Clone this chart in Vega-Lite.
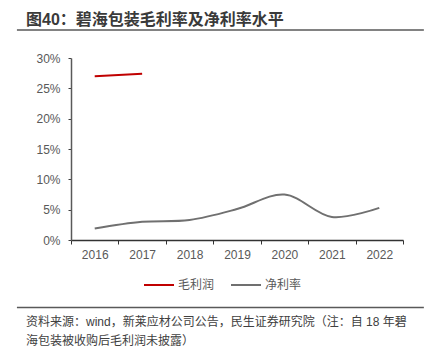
{
  "$schema": "https://vega.github.io/schema/vega-lite/v6.json",
  "width": 332,
  "height": 182,
  "autosize": {"type": "none"},
  "padding": {"left": 71, "top": 58, "right": 34, "bottom": 113},
  "background": "white",
  "config": {"view": {"stroke": null}, "font": "Liberation Sans, Noto Sans CJK SC"},
  "resolve": {"axis": {"x": "independent", "y": "independent"}},
  "layer": [
    {
      "data": {"values": [
        {"year": 2016, "series": "毛利润", "value": 0.270},
        {"year": 2017, "series": "毛利润", "value": 0.274},
        {"year": 2016, "series": "净利率", "value": 0.019},
        {"year": 2017, "series": "净利率", "value": 0.030},
        {"year": 2018, "series": "净利率", "value": 0.033},
        {"year": 2019, "series": "净利率", "value": 0.051},
        {"year": 2020, "series": "净利率", "value": 0.075},
        {"year": 2021, "series": "净利率", "value": 0.038},
        {"year": 2022, "series": "净利率", "value": 0.053}
      ]},
      "mark": {"type": "line", "interpolate": "catmull-rom", "strokeWidth": 2},
      "encoding": {
        "x": {
          "field": "year", "type": "quantitative",
          "scale": {"domain": [2015.5, 2022.5], "nice": false, "zero": false},
          "axis": {
            "title": null, "orient": "bottom",
            "values": [2015.5, 2016, 2016.5, 2017, 2017.5, 2018, 2018.5, 2019, 2019.5, 2020, 2020.5, 2021, 2021.5, 2022, 2022.5],
            "labelExpr": "datum.value % 1 == 0 ? format(datum.value, 'd') : ''",
            "tickColor": {"condition": {"test": "datum.value % 1 != 0", "value": "#333333"}, "value": "transparent"},
            "tickSize": 4, "tickWidth": 1,
            "domainColor": "#333333", "domainWidth": 1.5,
            "grid": false, "labelFontSize": 12, "labelColor": "#595959",
            "labelPadding": 5, "labelFlush": false, "labelOverlap": false
          }
        },
        "y": {
          "field": "value", "type": "quantitative",
          "scale": {"domain": [0, 0.3], "nice": false},
          "axis": {
            "title": null, "orient": "left", "values": [0, 0.05, 0.1, 0.15, 0.2, 0.25, 0.3], "format": ".0%",
            "tickSize": 3, "tickColor": "#404040", "domainColor": "#595959", "domainWidth": 1.5,
            "grid": false, "labelFontSize": 12, "labelColor": "#595959", "labelPadding": 8,
            "labelOverlap": false, "labelFlush": false
          }
        },
        "color": {
          "field": "series", "type": "nominal",
          "scale": {"domain": ["毛利润", "净利率"], "range": ["#c00000", "#707070"]},
          "legend": {
            "title": null, "orient": "none", "legendX": 72, "legendY": 211,
            "direction": "horizontal", "symbolType": "stroke", "symbolSize": 900,
            "symbolStrokeWidth": 2, "labelFontSize": 12, "labelColor": "#595959",
            "columnPadding": 12, "labelOffset": 3
          }
        }
      }
    },
    {
      "data": {"values": [{}]},
      "mark": {"type": "rule", "color": "#595959", "strokeWidth": 1.5},
      "encoding": {
        "x": {"datum": 2014.36, "type": "quantitative", "axis": null},
        "x2": {"datum": 2022.94},
        "y": {"datum": 0.3462, "type": "quantitative", "axis": null}
      }
    },
    {
      "data": {"values": [{}]},
      "mark": {"type": "rule", "color": "#595959", "strokeWidth": 1.5},
      "encoding": {
        "x": {"datum": 2014.36, "type": "quantitative", "axis": null},
        "x2": {"datum": 2022.94},
        "y": {"datum": -0.1113, "type": "quantitative", "axis": null}
      }
    },
    {
      "data": {"values": [{}]},
      "mark": {"type": "text", "align": "left", "baseline": "middle", "fontSize": 16, "fontWeight": "bold", "color": "#3a3a3a", "text": "图40：碧海包装毛利率及净利率水平"},
      "encoding": {
        "x": {"datum": 2014.551, "type": "quantitative", "axis": null},
        "y": {"datum": 0.3626, "type": "quantitative", "axis": null}
      }
    },
    {
      "data": {"values": [{}]},
      "mark": {"type": "text", "align": "left", "baseline": "middle", "fontSize": 12, "color": "#404040", "text": "资料来源：wind，新莱应材公司公告，民生证券研究院（注：自 18 年碧"},
      "encoding": {
        "x": {"datum": 2014.551, "type": "quantitative", "axis": null},
        "y": {"datum": -0.1352, "type": "quantitative", "axis": null}
      }
    },
    {
      "data": {"values": [{}]},
      "mark": {"type": "text", "align": "left", "baseline": "middle", "fontSize": 12, "color": "#404040", "text": "海包装被收购后毛利润未披露）"},
      "encoding": {
        "x": {"datum": 2014.551, "type": "quantitative", "axis": null},
        "y": {"datum": -0.1665, "type": "quantitative", "axis": null}
      }
    }
  ]
}
